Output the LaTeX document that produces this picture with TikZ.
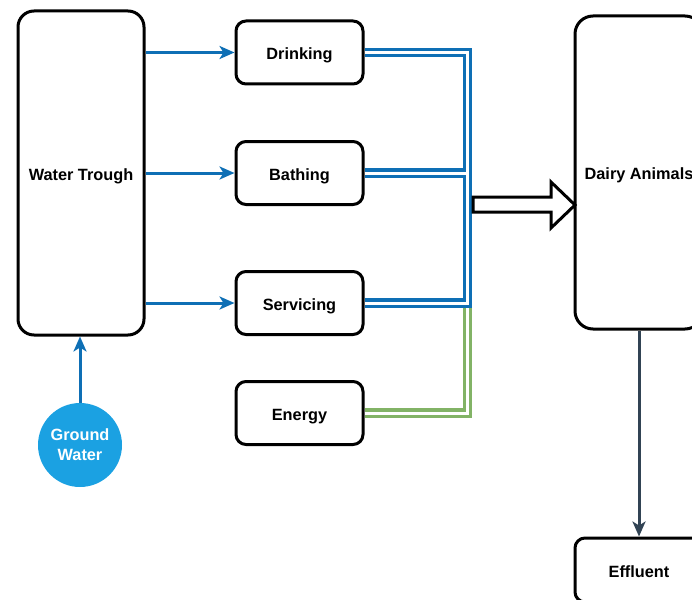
\documentclass[tikz,border=0pt]{standalone}
\usepackage{fontspec}
\setmainfont{Liberation Sans}
\usetikzlibrary{arrows.meta}
\definecolor{lnblue}{HTML}{0E6FB5}
\definecolor{gwblue}{HTML}{1BA1E2}
\definecolor{lngreen}{HTML}{82B366}
\definecolor{lndark}{HTML}{314354}
\tikzset{
  box/.style={draw=black, line width=3pt, fill=white, rounded corners=10pt, font=\bfseries\fontsize{16.3}{19}\selectfont, align=center, inner sep=0pt, text height=14.6pt, text depth=0pt},
  bigbox/.style={box, rounded corners=16pt},
  flow/.style={draw=lnblue, line width=3pt, -{Stealth[length=15pt,width=13pt,inset=4pt]}},
  link/.style={line width=9.5pt, line join=miter, postaction={draw=white, line width=3pt}},
}
\begin{document}
\begin{tikzpicture}[x=1pt,y=-1pt]
\useasboundingbox (0,0) rectangle (692,599);
\node[bigbox, minimum width=126pt, minimum height=324pt] (wt) at (81,173) {Water Trough};
\node[box, minimum width=127pt, minimum height=63pt] (dr) at (299.5,52.5) {Drinking};
\node[box, minimum width=127pt, minimum height=63pt] (ba) at (299.5,173) {Bathing};
\node[box, minimum width=127pt, minimum height=63pt] (se) at (299.5,303) {Servicing};
\node[box, minimum width=127pt, minimum height=63pt] (en) at (299.5,413) {Energy};
\node[bigbox, minimum width=128pt, minimum height=313pt, rounded corners=18pt] (da) at (639,172.5) {Dairy Animals};
\node[box, minimum width=128pt, minimum height=64pt] (ef) at (639,570) {Effluent};
\node[circle, fill=gwblue, minimum size=84pt, inner sep=0pt, text=white, align=center, font=\bfseries\fontsize{16.3}{20}\selectfont] (gw) at (80,445) {Ground\\Water};
\coordinate (jt) at (467.5,52.5);
\coordinate (jb) at (467.5,303);
\coordinate (jg) at (467.5,413);
\coordinate (jm) at (466,173);
% links
\draw[link, draw=lngreen] (en.east) -- (jg) -- (jb);
\draw[link, draw=lnblue] (dr.east) -- (jt) -- (jb) -- (se.east);
\draw[link, draw=lnblue] (ba.east) -- (jm);
% arrows
\draw[flow] (wt.east |- dr.west) -- (dr.west);
\draw[flow] (wt.east |- ba.west) -- (ba.west);
\draw[flow] (wt.east |- se.west) -- (se.west);
\draw[flow] (gw.north) -- (gw.north |- wt.south);
\draw[flow, draw=lndark] (da.south) -- (ef.north);
% hollow block arrow
\draw[line width=3pt, fill=white, line join=miter] (473,197) -- (551,197) -- (551,182) -- (575,205) -- (551,228) -- (551,212) -- (473,212) -- cycle;
\end{tikzpicture}
\end{document}
